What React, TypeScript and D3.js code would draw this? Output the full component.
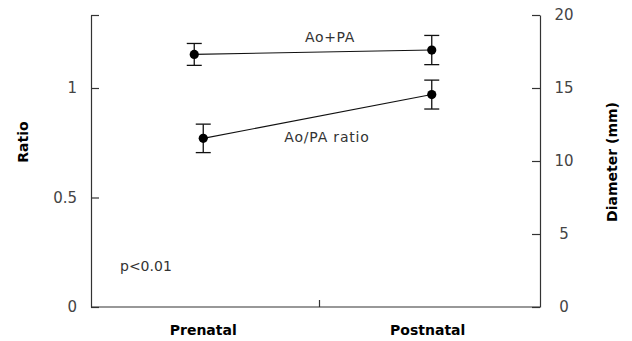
import React, { useEffect, useRef } from 'react';
import * as d3 from 'd3';

const categories = ['Prenatal', 'Postnatal'];

// Ao+PA diameter (mm), right axis
const sumMean = [17.3, 17.6];
const sumErr = [0.75, 1.0];

// Ao/PA ratio, left axis
const ratioMean = [0.77, 0.97];
const ratioErr = [0.065, 0.066];

const ratioTicks = [0, 0.5, 1];
const diamTicks = [0, 5, 10, 15, 20];

const FONT = '"DejaVu Sans", sans-serif';

const App: React.FC = () => {
  const svgRef = useRef<SVGSVGElement>(null);

  useEffect(() => {
    if (!svgRef.current) return;
    const svg = d3.select(svgRef.current);
    svg.selectAll('*').remove();

    const left = 91;
    const right = 540;
    const top = 15;
    const bottom = 307;

    const x = d3.scalePoint<string>()
      .domain(categories)
      .range([left, right])
      .padding(0.5);

    const yRatio = d3.scaleLinear().domain([0, 4 / 3]).range([bottom, top]);
    const yDiam = d3.scaleLinear().domain([0, 20]).range([bottom, top]);

    // Left axis (ratio)
    const leftAxis = svg.append('g')
      .attr('transform', `translate(${left},0)`)
      .call(d3.axisLeft(yRatio)
        .tickValues([...ratioTicks, 4 / 3])
        .tickFormat(d => (+d > 1.2 ? '' : d3.format('')(+d)))
        .tickSizeInner(-8)
        .tickSizeOuter(0)
        .tickPadding(14));
    leftAxis.select('.domain').attr('stroke', '#333').attr('stroke-width', 1.2);
    leftAxis.selectAll('.tick line').attr('stroke', '#333').attr('stroke-width', 1.2);
    leftAxis.selectAll('.tick text')
      .attr('font-family', FONT).attr('font-size', 15).attr('fill', '#444');

    // Right axis (diameter)
    const rightAxis = svg.append('g')
      .attr('transform', `translate(${right},0)`)
      .call(d3.axisRight(yDiam)
        .tickValues(diamTicks)
        .tickSizeInner(-8)
        .tickSizeOuter(0)
        .tickPadding(24));
    rightAxis.select('.domain').attr('stroke', '#333').attr('stroke-width', 1.2);
    rightAxis.selectAll('.tick line').attr('stroke', '#333').attr('stroke-width', 1.2);
    rightAxis.selectAll('.tick text')
      .attr('font-family', FONT).attr('font-size', 15).attr('fill', '#444')
      .attr('text-anchor', 'middle');

    // Bottom axis
    svg.append('line')
      .attr('x1', left).attr('x2', right)
      .attr('y1', bottom).attr('y2', bottom)
      .attr('stroke', '#333').attr('stroke-width', 1.2);
    const mid = ((x('Prenatal') as number) + (x('Postnatal') as number)) / 2;
    svg.append('line')
      .attr('x1', mid + 4).attr('x2', mid + 4)
      .attr('y1', bottom).attr('y2', bottom - 7)
      .attr('stroke', '#333').attr('stroke-width', 1.2);

    svg.selectAll('.cat-label')
      .data(categories)
      .enter()
      .append('text')
      .attr('class', 'cat-label')
      .attr('x', d => x(d) as number)
      .attr('y', 335)
      .attr('text-anchor', 'middle')
      .attr('font-family', FONT)
      .attr('font-size', 14)
      .attr('font-weight', 'bold')
      .text(d => d);

    // Axis titles
    svg.append('text')
      .attr('transform', 'translate(28,142) rotate(-90)')
      .attr('text-anchor', 'middle')
      .attr('font-family', FONT).attr('font-size', 14).attr('font-weight', 'bold')
      .text('Ratio');
    svg.append('text')
      .attr('transform', 'translate(617,162) rotate(-90)')
      .attr('text-anchor', 'middle')
      .attr('font-family', FONT).attr('font-size', 14).attr('font-weight', 'bold')
      .text('Diameter (mm)');

    const series = [
      { mean: sumMean, err: sumErr, y: yDiam, offset: [-9, 4] },
      { mean: ratioMean, err: ratioErr, y: yRatio, offset: [0, 4] },
    ];

    series.forEach(s => {
      const pts = categories.map((c, i) => ({
        cx: (x(c) as number) + s.offset[i],
        m: s.mean[i],
        e: s.err[i],
      }));

      svg.append('path')
        .datum(pts)
        .attr('fill', 'none')
        .attr('stroke', '#111')
        .attr('stroke-width', 1.1)
        .attr('d', d3.line<typeof pts[number]>().x(d => d.cx).y(d => s.y(d.m)));

      const g = svg.append('g');
      pts.forEach(p => {
        g.append('line')
          .attr('x1', p.cx).attr('x2', p.cx)
          .attr('y1', s.y(p.m + p.e)).attr('y2', s.y(p.m - p.e))
          .attr('stroke', '#111').attr('stroke-width', 1.3);
        [p.m + p.e, p.m - p.e].forEach(v => {
          g.append('line')
            .attr('x1', p.cx - 7.5).attr('x2', p.cx + 7.5)
            .attr('y1', s.y(v)).attr('y2', s.y(v))
            .attr('stroke', '#111').attr('stroke-width', 1.3);
        });
        g.append('circle')
          .attr('cx', p.cx).attr('cy', s.y(p.m))
          .attr('r', 4.6)
          .attr('fill', '#000');
      });
    });

    // Series labels
    svg.append('text')
      .attr('x', 330).attr('y', 42)
      .attr('text-anchor', 'middle')
      .attr('font-family', FONT).attr('font-size', 14).attr('fill', '#333')
      .attr('letter-spacing', 0.6)
      .text('Ao+PA');
    svg.append('text')
      .attr('x', 327).attr('y', 142)
      .attr('text-anchor', 'middle')
      .attr('font-family', FONT).attr('font-size', 14).attr('fill', '#333')
      .attr('letter-spacing', 0.8)
      .text('Ao/PA ratio');

    svg.append('text')
      .attr('x', 120).attr('y', 271)
      .attr('font-family', FONT).attr('font-size', 14).attr('fill', '#333')
      .text('p<0.01');
  }, []);

  return (
    <svg
      ref={svgRef}
      width={632}
      height={341}
      style={{ position: 'absolute', left: 0, top: 0, background: '#fff' }}
    />
  );
};

export default App;
